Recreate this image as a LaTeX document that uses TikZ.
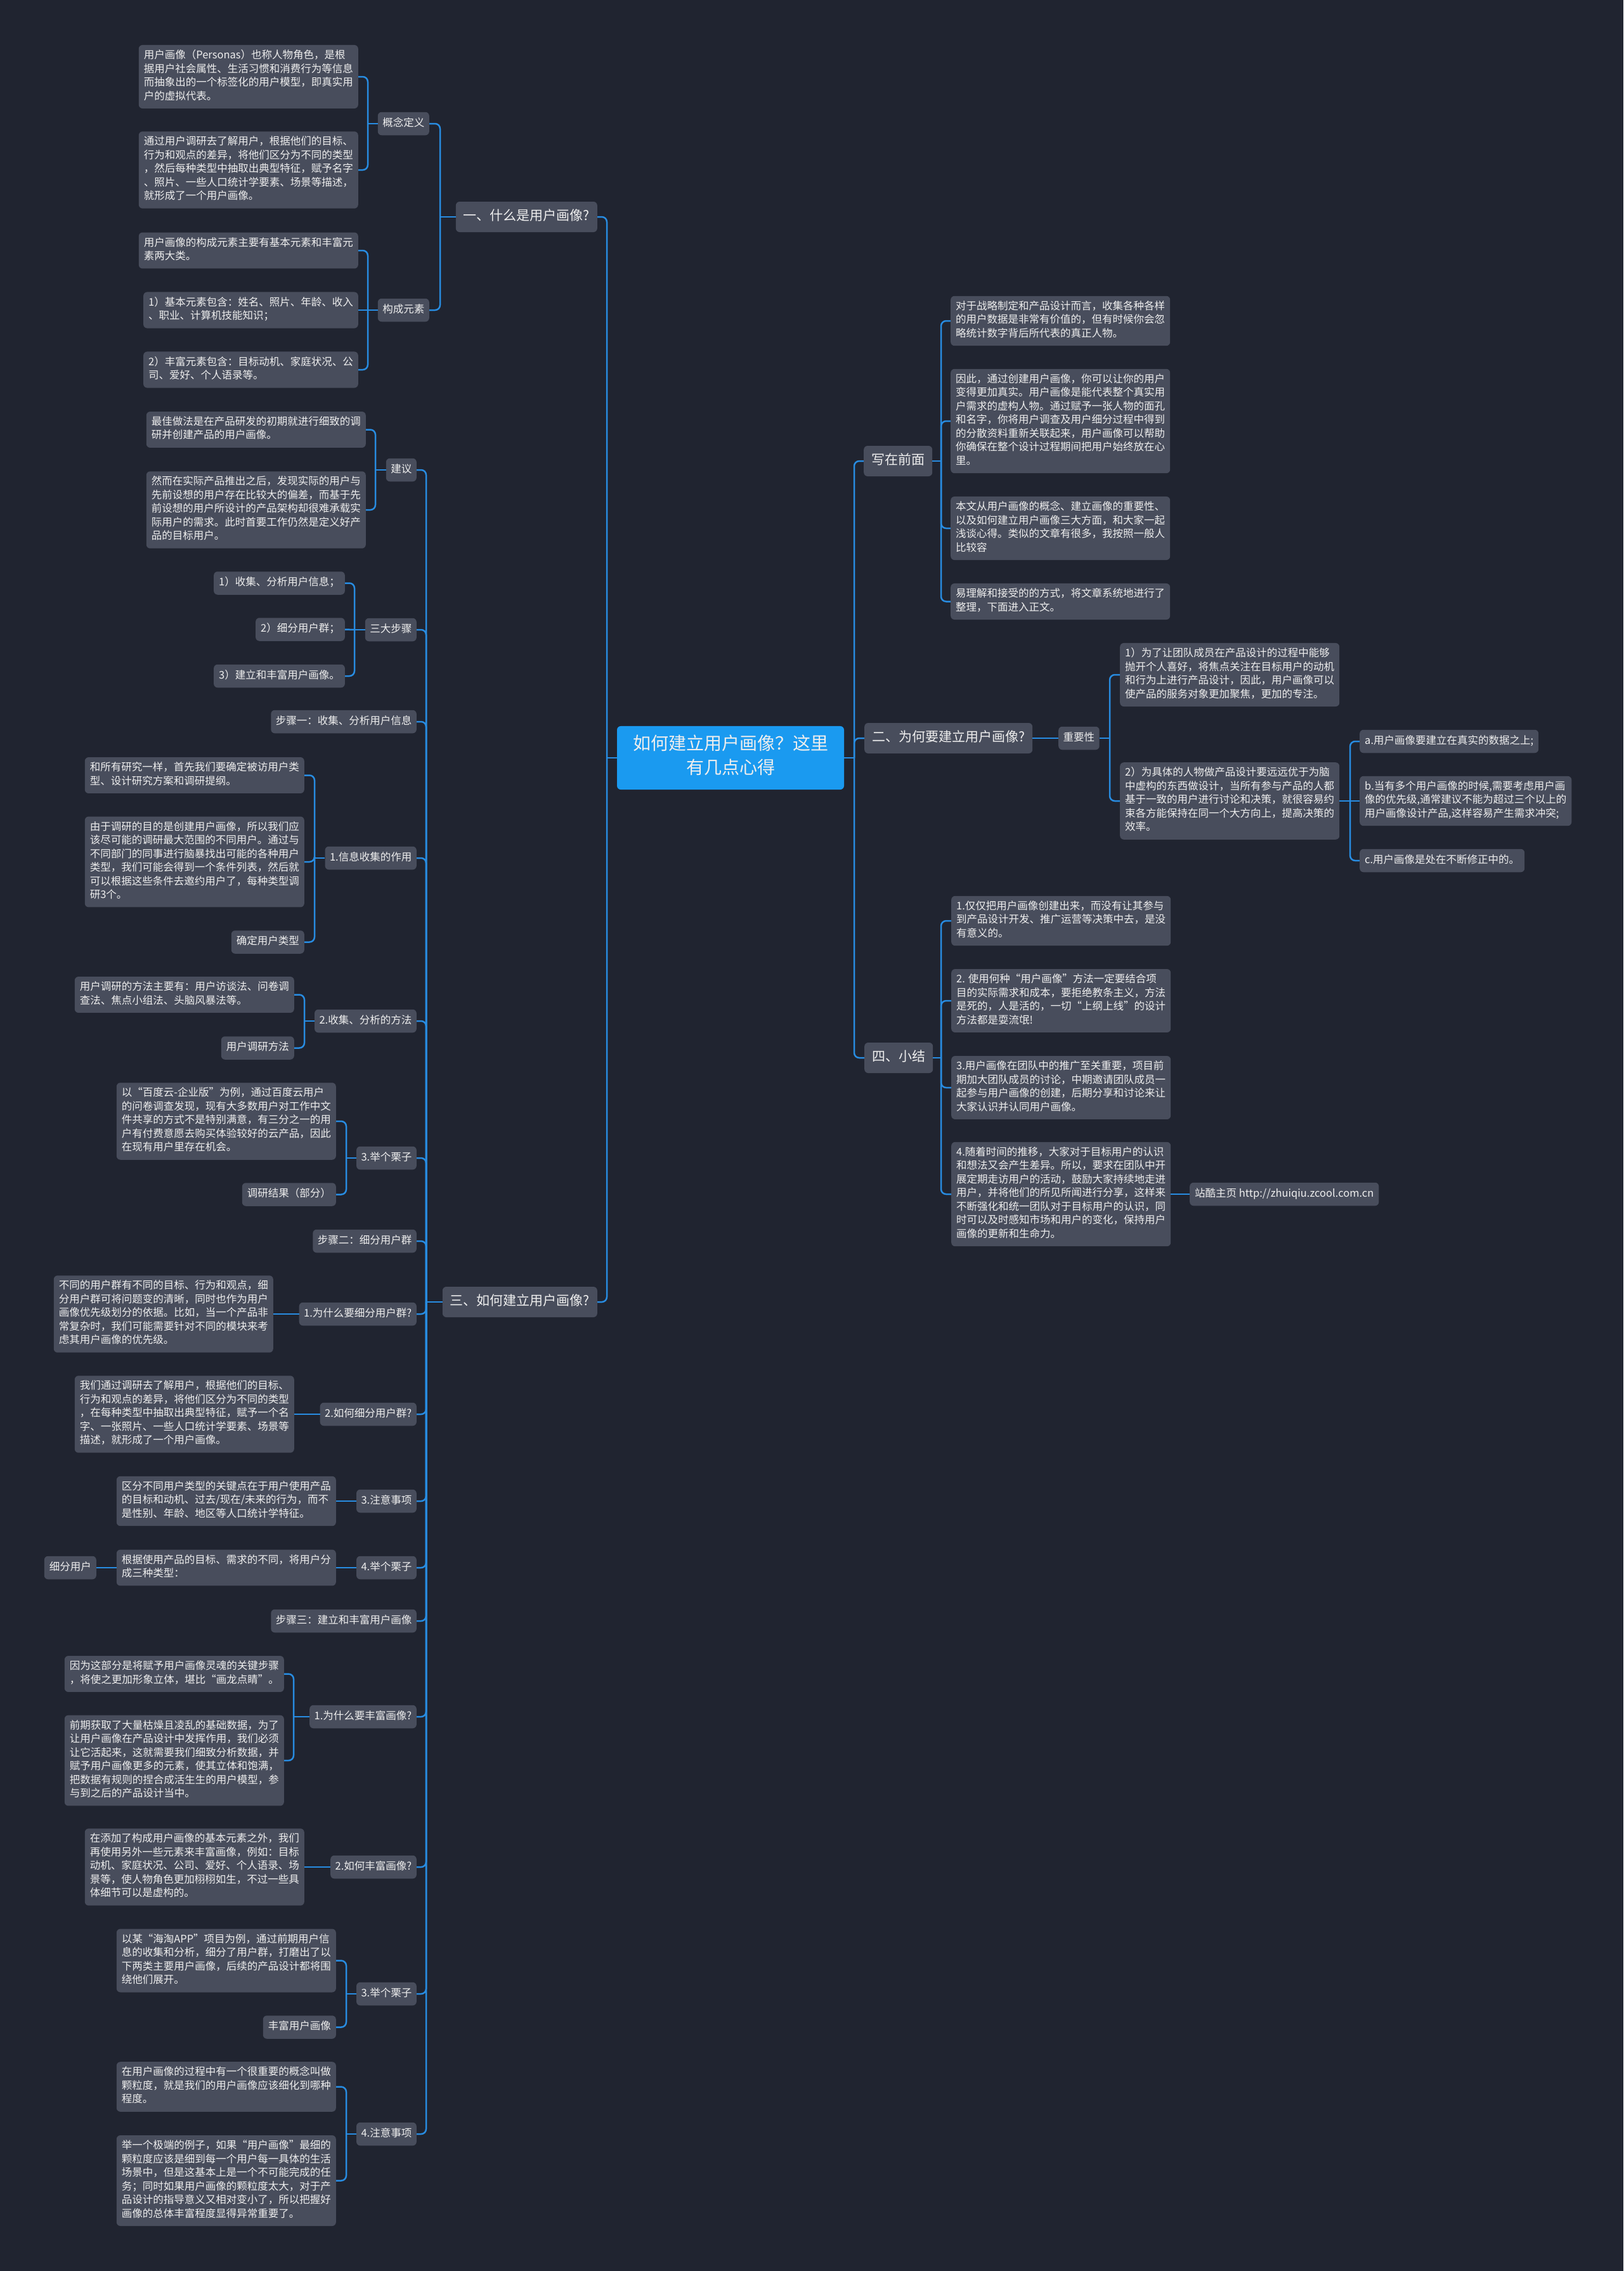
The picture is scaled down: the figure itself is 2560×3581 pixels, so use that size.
\documentclass[tikz,border=0pt]{standalone}
\usepackage{fontspec}
\setmainfont{Noto Sans CJK SC}
\definecolor{bgnavy}{RGB}{32,36,48}
\definecolor{nodegray}{RGB}{72,77,92}
\definecolor{linkblue}{RGB}{40,140,225}
\definecolor{rootblue}{RGB}{26,154,240}
\definecolor{inkwhite}{RGB}{238,238,238}

\begin{document}
\begin{tikzpicture}[x=1pt,y=-1pt]
        \tikzstyle{rootbox}=[fill=rootblue,text=inkwhite,rounded corners=6pt,align=center,minimum width=358pt,inner ysep=13.5pt,font=\fontsize{28}{38}\selectfont,execute at begin node=\strut,execute at end node=\strut]
        \tikzstyle{mainbox}=[fill=nodegray,text=inkwhite,rounded corners=6pt,inner xsep=12pt,inner ysep=10pt,font=\fontsize{21}{28}\selectfont,execute at begin node=\strut]
        \tikzstyle{subbox}=[fill=nodegray,text=inkwhite,rounded corners=6pt,inner xsep=7.5pt,inner ysep=7.5pt,font=\fontsize{16.5}{21.5}\selectfont,execute at begin node=\strut]
        \tikzstyle{notebox}=[fill=nodegray,text=inkwhite,rounded corners=6pt,align=left,inner xsep=8pt,inner ysep=7.5pt,font=\fontsize{16.5}{21.5}\selectfont,execute at begin node=\strut,execute at end node=\strut]
        \tikzstyle{branch}=[draw=linkblue,line width=2.5pt,rounded corners=8pt]
        \useasboundingbox (0,0) rectangle (2560,3581);
        \fill[bgnavy] (0,0) rectangle (2560,3581);
        % root
        \node[rootbox] (root) at (1152,1195) {如何建立用户画像？这里\\有几点心得};
        % left: part one
        \node[mainbox,anchor=east] (what) at (942,342) {一、什么是用户画像?};
        \node[subbox,anchor=east] (concept) at (677,195) {概念定义};
        \node[subbox,anchor=east] (element) at (677,489) {构成元素};
        \node[notebox,anchor=east] (conceptA) at (565,121) {用户画像（Personas）也称人物角色，是根\\据用户社会属性、生活习惯和消费行为等信息\\而抽象出的一个标签化的用户模型，即真实用\\户的虚拟代表。};
        \node[notebox,anchor=east] (conceptB) at (565,268) {通过用户调研去了解用户，根据他们的目标、\\行为和观点的差异，将他们区分为不同的类型\\，然后每种类型中抽取出典型特征，赋予名字\\、照片、一些人口统计学要素、场景等描述，\\就形成了一个用户画像。};
        \node[notebox,anchor=east] (elemA) at (565,395) {用户画像的构成元素主要有基本元素和丰富元\\素两大类。};
        \node[notebox,anchor=east] (elemB) at (565,489) {1）基本元素包含：姓名、照片、年龄、收入\\、职业、计算机技能知识；};
        \node[notebox,anchor=east] (elemC) at (565,583) {2）丰富元素包含：目标动机、家庭状况、公\\司、爱好、个人语录等。};
        % left: part three
        \node[mainbox,anchor=east] (how) at (942,2053) {三、如何建立用户画像?};
        \node[subbox,anchor=east] (advice) at (657,741) {建议};
        \node[subbox,anchor=east] (steps) at (657,993) {三大步骤};
        \node[subbox,anchor=east] (stepone) at (657,1138) {步骤一：收集、分析用户信息};
        \node[subbox,anchor=east] (infouse) at (657,1353) {1.信息收集的作用};
        \node[subbox,anchor=east] (method) at (657,1610) {2.收集、分析的方法};
        \node[subbox,anchor=east] (exone) at (657,1826) {3.举个栗子};
        \node[subbox,anchor=east] (steptwo) at (657,1957) {步骤二：细分用户群};
        \node[subbox,anchor=east] (whyseg) at (657,2072) {1.为什么要细分用户群?};
        \node[subbox,anchor=east] (howseg) at (657,2230) {2.如何细分用户群?};
        \node[subbox,anchor=east] (noteseg) at (657,2367) {3.注意事项};
        \node[subbox,anchor=east] (exseg) at (657,2472) {4.举个栗子};
        \node[subbox,anchor=east] (stepthree) at (657,2556) {步骤三：建立和丰富用户画像};
        \node[subbox,anchor=east] (whyrich) at (657,2707) {1.为什么要丰富画像?};
        \node[subbox,anchor=east] (howrich) at (657,2944) {2.如何丰富画像?};
        \node[subbox,anchor=east] (exrich) at (657,3144) {3.举个栗子};
        \node[subbox,anchor=east] (noterich) at (657,3365) {4.注意事项};
        \node[notebox,anchor=east] (adviceA) at (577,677.5) {最佳做法是在产品研发的初期就进行细致的调\\研并创建产品的用户画像。};
        \node[notebox,anchor=east] (adviceB) at (577,804) {然而在实际产品推出之后，发现实际的用户与\\先前设想的用户存在比较大的偏差，而基于先\\前设想的用户所设计的产品架构却很难承载实\\际用户的需求。此时首要工作仍然是定义好产\\品的目标用户。};
        \node[notebox,anchor=east] (stepsA) at (544,919.5) {1）收集、分析用户信息；};
        \node[notebox,anchor=east] (stepsB) at (544,992.5) {2）细分用户群；};
        \node[notebox,anchor=east] (stepsC) at (544,1066) {3）建立和丰富用户画像。};
        \node[notebox,anchor=east] (infoA) at (480,1222.5) {和所有研究一样，首先我们要确定被访用户类\\型、设计研究方案和调研提纲。};
        \node[notebox,anchor=east] (infoB) at (480,1359) {由于调研的目的是创建用户画像，所以我们应\\该尽可能的调研最大范围的不同用户。通过与\\不同部门的同事进行脑暴找出可能的各种用户\\类型，我们可能会得到一个条件列表，然后就\\可以根据这些条件去邀约用户了，每种类型调\\研3个。};
        \node[notebox,anchor=east] (infoC) at (480,1485.5) {确定用户类型};
        \node[notebox,anchor=east] (methodA) at (464,1568.5) {用户调研的方法主要有：用户访谈法、问卷调\\查法、焦点小组法、头脑风暴法等。};
        \node[notebox,anchor=east] (methodB) at (464,1652.5) {用户调研方法};
        \node[notebox,anchor=east] (exoneA) at (530,1768) {以“百度云-企业版”为例，通过百度云用户\\的问卷调查发现，现有大多数用户对工作中文\\件共享的方式不是特别满意，有三分之一的用\\户有付费意愿去购买体验较好的云产品，因此\\在现有用户里存在机会。};
        \node[notebox,anchor=east] (exoneB) at (530,1883.5) {调研结果（部分）};
        \node[notebox,anchor=east] (whysegA) at (431,2072) {不同的用户群有不同的目标、行为和观点，细\\分用户群可将问题变的清晰，同时也作为用户\\画像优先级划分的依据。比如，当一个产品非\\常复杂时，我们可能需要针对不同的模块来考\\虑其用户画像的优先级。};
        \node[notebox,anchor=east] (howsegA) at (464,2230) {我们通过调研去了解用户，根据他们的目标、\\行为和观点的差异，将他们区分为不同的类型\\，在每种类型中抽取出典型特征，赋予一个名\\字、一张照片、一些人口统计学要素、场景等\\描述，就形成了一个用户画像。};
        \node[notebox,anchor=east] (notesegA) at (530,2367) {区分不同用户类型的关键点在于用户使用产品\\的目标和动机、过去/现在/未来的行为，而不\\是性别、年龄、地区等人口统计学特征。};
        \node[notebox,anchor=east] (exsegA) at (530,2472) {根据使用产品的目标、需求的不同，将用户分\\成三种类型：};
        \node[notebox,anchor=east] (exsegB) at (152,2472) {细分用户};
        \node[notebox,anchor=east] (whyrichA) at (448,2639.5) {因为这部分是将赋予用户画像灵魂的关键步骤\\，将使之更加形象立体，堪比“画龙点睛”。};
        \node[notebox,anchor=east] (whyrichB) at (448,2776) {前期获取了大量枯燥且凌乱的基础数据，为了\\让用户画像在产品设计中发挥作用，我们必须\\让它活起来，这就需要我们细致分析数据，并\\赋予用户画像更多的元素，使其立体和饱满，\\把数据有规则的捏合成活生生的用户模型，参\\与到之后的产品设计当中。};
        \node[notebox,anchor=east] (howrichA) at (480,2944) {在添加了构成用户画像的基本元素之外，我们\\再使用另外一些元素来丰富画像，例如：目标\\动机、家庭状况、公司、爱好、个人语录、场\\景等，使人物角色更加栩栩如生，不过一些具\\体细节可以是虚构的。};
        \node[notebox,anchor=east] (exrichA) at (530,3091.5) {以某“海淘APP”项目为例，通过前期用户信\\息的收集和分析，细分了用户群，打磨出了以\\下两类主要用户画像，后续的产品设计都将围\\绕他们展开。};
        \node[notebox,anchor=east] (exrichB) at (530,3196.5) {丰富用户画像};
        \node[notebox,anchor=east] (noterichA) at (530,3290.5) {在用户画像的过程中有一个很重要的概念叫做\\颗粒度，就是我们的用户画像应该细化到哪种\\程度。};
        \node[notebox,anchor=east] (noterichB) at (530,3438.5) {举一个极端的例子，如果“用户画像”最细的\\颗粒度应该是细到每一个用户每一具体的生活\\场景中，但是这基本上是一个不可能完成的任\\务；同时如果用户画像的颗粒度太大，对于产\\品设计的指导意义又相对变小了，所以把握好\\画像的总体丰富程度显得异常重要了。};
        % right side
        \node[mainbox,anchor=west] (intro) at (1362,727) {写在前面};
        \node[mainbox,anchor=west] (why) at (1363,1164) {二、为何要建立用户画像?};
        \node[mainbox,anchor=west] (sum) at (1363,1668) {四、小结};
        \node[notebox,anchor=west] (introA) at (1499,506) {对于战略制定和产品设计而言，收集各种各样\\的用户数据是非常有价值的，但有时候你会忽\\略统计数字背后所代表的真正人物。};
        \node[notebox,anchor=west] (introB) at (1499,664) {因此，通过创建用户画像，你可以让你的用户\\变得更加真实。用户画像是能代表整个真实用\\户需求的虚构人物。通过赋予一张人物的面孔\\和名字，你将用户调查及用户细分过程中得到\\的分散资料重新关联起来，用户画像可以帮助\\你确保在整个设计过程期间把用户始终放在心\\里。};
        \node[notebox,anchor=west] (introC) at (1499,833) {本文从用户画像的概念、建立画像的重要性、\\以及如何建立用户画像三大方面，和大家一起\\浅谈心得。类似的文章有很多，我按照一般人\\比较容};
        \node[notebox,anchor=west] (introD) at (1499,948.5) {易理解和接受的的方式，将文章系统地进行了\\整理，下面进入正文。};
        \node[subbox,anchor=west] (value) at (1669,1164) {重要性};
        \node[notebox,anchor=west] (valueA) at (1766,1064) {1）为了让团队成员在产品设计的过程中能够\\抛开个人喜好，将焦点关注在目标用户的动机\\和行为上进行产品设计，因此，用户画像可以\\使产品的服务对象更加聚焦，更加的专注。};
        \node[notebox,anchor=west] (valueB) at (1766,1263) {2）为具体的人物做产品设计要远远优于为脑\\中虚构的东西做设计，当所有参与产品的人都\\基于一致的用户进行讨论和决策，就很容易约\\束各方能保持在同一个大方向上，提高决策的\\效率。};
        \node[notebox,anchor=west] (ruleA) at (2144,1169) {a.用户画像要建立在真实的数据之上;};
        \node[notebox,anchor=west] (ruleB) at (2144,1263) {b.当有多个用户画像的时候,需要考虑用户画\\像的优先级,通常建议不能为超过三个以上的\\用户画像设计产品,这样容易产生需求冲突;};
        \node[notebox,anchor=west] (ruleC) at (2144,1357) {c.用户画像是处在不断修正中的。};
        \node[notebox,anchor=west] (sumA) at (1500,1452) {1.仅仅把用户画像创建出来，而没有让其参与\\到产品设计开发、推广运营等决策中去，是没\\有意义的。};
        \node[notebox,anchor=west] (sumB) at (1500,1578) {2. 使用何种“用户画像”方法一定要结合项\\目的实际需求和成本，要拒绝教条主义，方法\\是死的，人是活的，一切“上纲上线”的设计\\方法都是耍流氓!};
        \node[notebox,anchor=west] (sumC) at (1500,1715) {3.用户画像在团队中的推广至关重要，项目前\\期加大团队成员的讨论，中期邀请团队成员一\\起参与用户画像的创建，后期分享和讨论来让\\大家认识并认同用户画像。};
        \node[notebox,anchor=west] (sumD) at (1500,1883) {4.随着时间的推移，大家对于目标用户的认识\\和想法又会产生差异。所以，要求在团队中开\\展定期走访用户的活动，鼓励大家持续地走进\\用户，并将他们的所见所闻进行分享，这样来\\不断强化和统一团队对于目标用户的认识，同\\时可以及时感知市场和用户的变化，保持用户\\画像的更新和生命力。};
        \node[notebox,anchor=west] (zcool) at (1876,1883) {站酷主页 http://zhuiqiu.zcool.com.cn};
        % spine points
        \coordinate (rl) at (957,1195);
        \coordinate (rr) at (1347,1195);
        \coordinate (swhat) at (694,342);
        \coordinate (sconcept) at (580,195);
        \coordinate (selement) at (580,489);
        \coordinate (show) at (672,2053);
        \coordinate (sadvice) at (592,741);
        \coordinate (ssteps) at (559,993);
        \coordinate (sinfo) at (496,1353);
        \coordinate (smethod) at (480,1610);
        \coordinate (sexone) at (546,1826);
        \coordinate (swhyrich) at (463,2707);
        \coordinate (sexrich) at (546,3144);
        \coordinate (snoterich) at (546,3365);
        \coordinate (sintro) at (1484,727);
        \coordinate (svalue) at (1750,1164);
        \coordinate (srule) at (2129,1263);
        \coordinate (ssum) at (1484,1668);
        % connectors
        \draw[branch] (root.west) -- (rl);
        \draw[branch] (rl) |- (what.east);
        \draw[branch] (rl) |- (how.east);
        \draw[branch] (root.east) -- (rr);
        \draw[branch] (rr) |- (intro.west);
        \draw[branch] (rr) |- (why.west);
        \draw[branch] (rr) |- (sum.west);
        \draw[branch] (what.west) -- (swhat);
        \draw[branch] (swhat) |- (concept.east);
        \draw[branch] (swhat) |- (element.east);
        \draw[branch] (concept.west) -- (sconcept);
        \draw[branch] (sconcept) |- (conceptA.east);
        \draw[branch] (sconcept) |- (conceptB.east);
        \draw[branch] (element.west) -- (selement);
        \draw[branch] (selement) |- (elemA.east);
        \draw[branch] (selement) -- (elemB.east);
        \draw[branch] (selement) |- (elemC.east);
        \draw[branch] (how.west) -- (show);
        \draw[branch] (show) |- (advice.east);
        \draw[branch] (show) |- (steps.east);
        \draw[branch] (show) |- (stepone.east);
        \draw[branch] (show) |- (infouse.east);
        \draw[branch] (show) |- (method.east);
        \draw[branch] (show) |- (exone.east);
        \draw[branch] (show) |- (steptwo.east);
        \draw[branch] (show) |- (whyseg.east);
        \draw[branch] (show) |- (howseg.east);
        \draw[branch] (show) |- (noteseg.east);
        \draw[branch] (show) |- (exseg.east);
        \draw[branch] (show) |- (stepthree.east);
        \draw[branch] (show) |- (whyrich.east);
        \draw[branch] (show) |- (howrich.east);
        \draw[branch] (show) |- (exrich.east);
        \draw[branch] (show) |- (noterich.east);
        \draw[branch] (advice.west) -- (sadvice);
        \draw[branch] (sadvice) |- (adviceA.east);
        \draw[branch] (sadvice) |- (adviceB.east);
        \draw[branch] (steps.west) -- (ssteps);
        \draw[branch] (ssteps) |- (stepsA.east);
        \draw[branch] (ssteps) -- (stepsB.east);
        \draw[branch] (ssteps) |- (stepsC.east);
        \draw[branch] (infouse.west) -- (sinfo);
        \draw[branch] (sinfo) |- (infoA.east);
        \draw[branch] (sinfo) |- (infoB.east);
        \draw[branch] (sinfo) |- (infoC.east);
        \draw[branch] (method.west) -- (smethod);
        \draw[branch] (smethod) |- (methodA.east);
        \draw[branch] (smethod) |- (methodB.east);
        \draw[branch] (exone.west) -- (sexone);
        \draw[branch] (sexone) |- (exoneA.east);
        \draw[branch] (sexone) |- (exoneB.east);
        \draw[branch] (whyseg.west) -- (whysegA.east);
        \draw[branch] (howseg.west) -- (howsegA.east);
        \draw[branch] (noteseg.west) -- (notesegA.east);
        \draw[branch] (exseg.west) -- (exsegA.east);
        \draw[branch] (exsegA.west) -- (exsegB.east);
        \draw[branch] (whyrich.west) -- (swhyrich);
        \draw[branch] (swhyrich) |- (whyrichA.east);
        \draw[branch] (swhyrich) |- (whyrichB.east);
        \draw[branch] (howrich.west) -- (howrichA.east);
        \draw[branch] (exrich.west) -- (sexrich);
        \draw[branch] (sexrich) |- (exrichA.east);
        \draw[branch] (sexrich) |- (exrichB.east);
        \draw[branch] (noterich.west) -- (snoterich);
        \draw[branch] (snoterich) |- (noterichA.east);
        \draw[branch] (snoterich) |- (noterichB.east);
        \draw[branch] (intro.east) -- (sintro);
        \draw[branch] (sintro) |- (introA.west);
        \draw[branch] (sintro) |- (introB.west);
        \draw[branch] (sintro) |- (introC.west);
        \draw[branch] (sintro) |- (introD.west);
        \draw[branch] (why.east) -- (value.west);
        \draw[branch] (value.east) -- (svalue);
        \draw[branch] (svalue) |- (valueA.west);
        \draw[branch] (svalue) |- (valueB.west);
        \draw[branch] (valueB.east) -- (srule);
        \draw[branch] (srule) |- (ruleA.west);
        \draw[branch] (srule) -- (ruleB.west);
        \draw[branch] (srule) |- (ruleC.west);
        \draw[branch] (sum.east) -- (ssum);
        \draw[branch] (ssum) |- (sumA.west);
        \draw[branch] (ssum) |- (sumB.west);
        \draw[branch] (ssum) |- (sumC.west);
        \draw[branch] (ssum) |- (sumD.west);
        \draw[branch] (sumD.east) -- (zcool.west);
      \end{tikzpicture}
\end{document}
